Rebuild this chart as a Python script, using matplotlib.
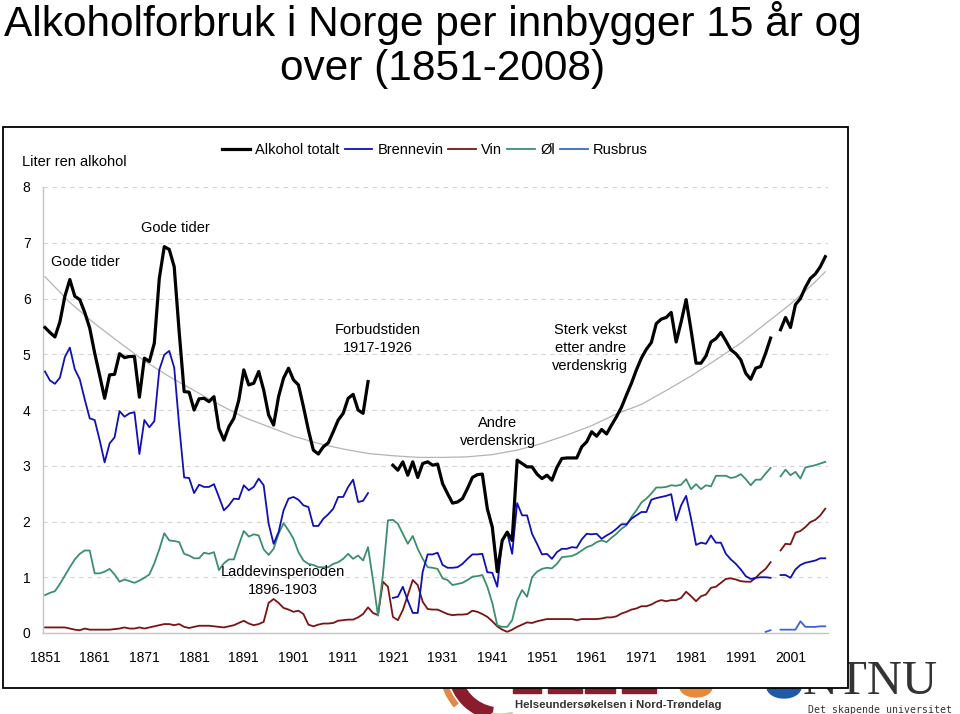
import numpy as np
import matplotlib

matplotlib.use("Agg")
import matplotlib.pyplot as plt
from matplotlib.patches import Rectangle, Wedge, Ellipse

nan = np.nan

YEARS = list(range(1851, 2009))

# Alkohol totalt (liter ren alkohol per innbygger 15+)
TOTAL = [
    5.48, 5.39, 5.31, 5.58, 6.04, 6.34, 6.04, 5.98, 5.75, 5.47,
    5.02, 4.62, 4.21, 4.63, 4.64, 5.01, 4.94, 4.96, 4.96, 4.23,
    4.93, 4.87, 5.20, 6.36, 6.93, 6.88, 6.57, 5.40, 4.33, 4.32,
    4.00, 4.20, 4.21, 4.15, 4.24, 3.67, 3.46, 3.70, 3.85, 4.18,
    4.72, 4.45, 4.48, 4.69, 4.36, 3.91, 3.73, 4.24, 4.57, 4.75,
    4.54, 4.45, 4.06, 3.64, 3.28, 3.21, 3.34, 3.41, 3.61, 3.82,
    3.94, 4.21, 4.28, 4.00, 3.94, 4.51, nan, nan, nan, nan,
    3.01, 2.92, 3.07, 2.83, 3.07, 2.79, 3.04, 3.07, 3.01, 3.03,
    2.68, 2.50, 2.33, 2.35, 2.41, 2.59, 2.79, 2.84, 2.85, 2.23,
    1.90, 1.10, 1.66, 1.81, 1.66, 3.10, 3.04, 2.98, 2.98, 2.85,
    2.77, 2.83, 2.74, 2.97, 3.13, 3.14, 3.14, 3.14, 3.34, 3.43,
    3.61, 3.53, 3.65, 3.57, 3.73, 3.88, 4.05, 4.27, 4.48, 4.72,
    4.93, 5.09, 5.21, 5.55, 5.63, 5.66, 5.75, 5.22, 5.58, 5.98,
    5.43, 4.84, 4.84, 4.97, 5.22, 5.28, 5.39, 5.24, 5.08, 5.01,
    4.90, 4.66, 4.55, 4.75, 4.78, 5.02, 5.29, nan, 5.44, 5.66,
    5.48, 5.89, 6.00, 6.20, 6.36, 6.44, 6.57, 6.75,
]

BRENNEVIN = [
    4.69, 4.53, 4.47, 4.58, 4.95, 5.12, 4.73, 4.55, 4.19, 3.85,
    3.82, 3.46, 3.06, 3.40, 3.51, 3.98, 3.88, 3.94, 3.96, 3.21,
    3.82, 3.69, 3.80, 4.72, 4.99, 5.06, 4.76, 3.72, 2.79, 2.78,
    2.51, 2.66, 2.62, 2.62, 2.67, 2.44, 2.20, 2.29, 2.41, 2.40,
    2.65, 2.56, 2.62, 2.77, 2.65, 1.96, 1.60, 1.81, 2.20, 2.41,
    2.44, 2.39, 2.29, 2.26, 1.92, 1.92, 2.05, 2.13, 2.23, 2.44,
    2.44, 2.62, 2.75, 2.35, 2.37, 2.51, nan, nan, nan, nan,
    0.63, 0.65, 0.83, 0.58, 0.36, 0.36, 1.10, 1.41, 1.41, 1.44,
    1.22, 1.17, 1.17, 1.18, 1.24, 1.33, 1.41, 1.41, 1.42, 1.09,
    1.08, 0.83, 1.66, 1.80, 1.42, 2.33, 2.11, 2.11, 1.78, 1.60,
    1.41, 1.42, 1.33, 1.45, 1.51, 1.51, 1.54, 1.53, 1.68, 1.78,
    1.77, 1.78, 1.69, 1.75, 1.80, 1.87, 1.95, 1.95, 2.05, 2.11,
    2.17, 2.17, 2.39, 2.42, 2.44, 2.46, 2.49, 2.02, 2.29, 2.46,
    2.05, 1.58, 1.62, 1.60, 1.75, 1.62, 1.62, 1.42, 1.32, 1.24,
    1.14, 1.02, 0.97, 0.99, 1.00, 1.00, 0.99, nan, 1.04, 1.04,
    0.99, 1.14, 1.22, 1.26, 1.28, 1.30, 1.34, 1.34,
]

VIN = [
    0.10, 0.10, 0.10, 0.10, 0.10, 0.08, 0.06, 0.05, 0.08, 0.06,
    0.06, 0.06, 0.06, 0.06, 0.07, 0.08, 0.10, 0.08, 0.08, 0.10,
    0.08, 0.10, 0.12, 0.14, 0.16, 0.16, 0.14, 0.16, 0.11, 0.09,
    0.11, 0.13, 0.13, 0.13, 0.12, 0.11, 0.10, 0.12, 0.14, 0.18,
    0.22, 0.17, 0.14, 0.16, 0.20, 0.54, 0.61, 0.54, 0.45, 0.42,
    0.38, 0.40, 0.34, 0.15, 0.12, 0.15, 0.17, 0.17, 0.18, 0.22,
    0.23, 0.24, 0.24, 0.28, 0.34, 0.46, 0.36, 0.32, 0.92, 0.83,
    0.29, 0.23, 0.41, 0.68, 0.95, 0.86, 0.56, 0.43, 0.42, 0.42,
    0.38, 0.34, 0.32, 0.33, 0.33, 0.34, 0.40, 0.38, 0.34, 0.29,
    0.21, 0.12, 0.06, 0.02, 0.06, 0.11, 0.15, 0.19, 0.18, 0.21,
    0.23, 0.25, 0.25, 0.25, 0.25, 0.25, 0.25, 0.23, 0.25, 0.25,
    0.25, 0.25, 0.26, 0.28, 0.28, 0.30, 0.35, 0.38, 0.42, 0.44,
    0.48, 0.48, 0.51, 0.56, 0.59, 0.57, 0.59, 0.59, 0.63, 0.74,
    0.66, 0.57, 0.66, 0.69, 0.81, 0.83, 0.90, 0.97, 0.98, 0.96,
    0.93, 0.92, 0.92, 0.99, 1.08, 1.15, 1.27, nan, 1.48, 1.60,
    1.59, 1.80, 1.83, 1.90, 1.99, 2.03, 2.11, 2.23,
]

OL = [
    0.68, 0.72, 0.75, 0.88, 1.03, 1.18, 1.32, 1.42, 1.48, 1.48,
    1.07, 1.07, 1.10, 1.15, 1.05, 0.92, 0.96, 0.93, 0.90, 0.94,
    0.99, 1.05, 1.25, 1.50, 1.79, 1.66, 1.65, 1.63, 1.42, 1.39,
    1.34, 1.34, 1.44, 1.42, 1.45, 1.13, 1.25, 1.32, 1.32, 1.58,
    1.83, 1.73, 1.77, 1.75, 1.50, 1.40, 1.51, 1.78, 1.97, 1.84,
    1.69, 1.45, 1.30, 1.24, 1.22, 1.18, 1.18, 1.18, 1.24, 1.27,
    1.33, 1.42, 1.33, 1.39, 1.30, 1.54, 0.95, 0.31, 1.05, 2.02,
    2.03, 1.96, 1.78, 1.60, 1.74, 1.51, 1.33, 1.18, 1.17, 1.15,
    0.98, 0.95, 0.86, 0.88, 0.90, 0.95, 1.01, 1.02, 1.04, 0.83,
    0.54, 0.14, 0.11, 0.11, 0.23, 0.59, 0.77, 0.65, 1.00, 1.10,
    1.15, 1.17, 1.16, 1.24, 1.36, 1.37, 1.38, 1.42, 1.48, 1.54,
    1.57, 1.63, 1.66, 1.63, 1.71, 1.78, 1.87, 1.93, 2.08, 2.20,
    2.34, 2.41, 2.50, 2.61, 2.61, 2.62, 2.65, 2.64, 2.66, 2.76,
    2.58, 2.67, 2.58, 2.65, 2.63, 2.82, 2.82, 2.82, 2.78, 2.80,
    2.85, 2.76, 2.65, 2.75, 2.75, 2.86, 2.96, nan, 2.81, 2.93,
    2.83, 2.89, 2.77, 2.97, 2.99, 3.01, 3.04, 3.07,
]

RUSBRUS_YEARS = list(range(1996, 2009))
RUSBRUS = [0.02, 0.05, nan, 0.06, 0.06, 0.06, 0.06, 0.21, 0.11, 0.11, 0.11, 0.12, 0.12]

# grey trend curve
TREND_YEARS = [1851, 1856, 1861, 1866, 1871, 1876, 1881, 1886, 1891, 1896,
               1901, 1906, 1911, 1916, 1921, 1926, 1931, 1936, 1941, 1946,
               1951, 1956, 1961, 1966, 1971, 1976, 1981, 1986, 1991, 1996,
               2001, 2006, 2008]
TREND = [6.39, 5.93, 5.55, 5.21, 4.88, 4.60, 4.35, 4.10, 3.87, 3.70,
         3.53, 3.40, 3.30, 3.22, 3.18, 3.15, 3.15, 3.16, 3.20, 3.28,
         3.40, 3.55, 3.72, 3.93, 4.10, 4.35, 4.61, 4.90, 5.20, 5.55,
         5.90, 6.30, 6.48]

TICK_YEARS = list(range(1851, 2002, 10))
Y_TICKS = list(range(0, 9))

SERIES_NAMES = ["Alkohol totalt", "Brennevin", "Vin", "Øl", "Rusbrus"]

W, H = 960, 714
FONT = "Liberation Sans"
MAROON = "#8b1c2c"


def fx(px):
    return px / W


def fy(py):
    return 1 - py / H


fig = plt.figure(figsize=(W / 100, H / 100), dpi=100)
plt.rcParams["font.family"] = [FONT, "DejaVu Sans"]

# background layer: logos + chart frame, in pixel coords
bg = fig.add_axes([0, 0, 1, 1])
bg.set_xlim(0, W)
bg.set_ylim(H, 0)
bg.axis("off")

# HUNT logo bits (mostly hidden behind the chart box)
bg.add_patch(Wedge((500, 668), 52, 100, 170, width=12, color=MAROON, zorder=1))
bg.add_patch(Wedge((500, 668), 60, 140, 165, width=5, color="#e0894a", zorder=1))
bg.add_patch(Wedge((500, 668), 52, 75, 100, width=6, color="#c9d3a8", zorder=1))
for x0, w in [(513, 28), (548, 34), (585, 30), (622, 34)]:
    bg.add_patch(Rectangle((x0, 678), w, 15, color=MAROON, zorder=1))
bg.add_patch(Ellipse((696, 687), 32, 20, color="#e8893a", zorder=1))
bg.add_patch(Ellipse((784, 687), 34, 22, color="#1f5aa8", zorder=1))
bg.text(515, 705, "Helseundersøkelsen i Nord-Trøndelag", fontsize=8.2,
        fontweight="bold", color="#333333", va="center", ha="left",
        zorder=1)
bg.text(870, 694, "NTNU", fontsize=35, family="Liberation Serif",
        color="#333333", va="baseline", ha="center", zorder=1)
bg.text(808, 710, "Det skapende universitet", fontsize=7.1,
        family="DejaVu Sans Mono", color="#333333", va="center",
        ha="left", zorder=1)

# white chart box drawn over the logos
bg.add_patch(Rectangle((2.5, 127), 845, 561, facecolor="white",
                       edgecolor="black", lw=1.3, zorder=3))

# title
fig.text(fx(433), fy(23), "Alkoholforbruk i Norge per innbygger 15 år og",
         fontsize=30.5, ha="center", va="center")
fig.text(fx(443), fy(69), "over (1851-2008)", fontsize=30.5,
         ha="center", va="center")

# plot area
ax = fig.add_axes([fx(43), fy(633), fx(828) - fx(43), fy(187) - fy(633)])
ax.set_facecolor("none")
ax.set_xlim(1850.6, 2008.55)
ax.set_ylim(0, 8)

for v in Y_TICKS[1:]:
    ax.axhline(v, color="#d4d4d4", lw=0.8, dashes=(4, 4), zorder=0)

ax.plot(TREND_YEARS, TREND, color="#b4b4b4", lw=0.9, zorder=1)
l_vin, = ax.plot(YEARS, VIN, color="#7a1414", lw=1.3, zorder=2)
l_ol, = ax.plot(YEARS, OL, color="#3b8f6e", lw=1.3, zorder=2)
l_br, = ax.plot(YEARS, BRENNEVIN, color="#1010b4", lw=1.3, zorder=3)
l_rb, = ax.plot(RUSBRUS_YEARS, RUSBRUS, color="#3d63d6", lw=1.3, zorder=3)
l_tot, = ax.plot(YEARS, TOTAL, color="black", lw=2.3, zorder=4)

ax.set_xticks(TICK_YEARS)
ax.set_xticklabels([str(y) for y in TICK_YEARS])
ax.set_yticks(Y_TICKS)
ax.tick_params(axis="both", length=0, labelsize=10)
ax.tick_params(axis="x", pad=13)
ax.tick_params(axis="y", pad=9)
for s in ["top", "right"]:
    ax.spines[s].set_visible(False)
for s in ["left", "bottom"]:
    ax.spines[s].set_color("#c4c4c4")
    ax.spines[s].set_linewidth(1.0)

# annotations
ax.text(1859.2, 6.66, "Gode tider", fontsize=10.5, ha="center", va="center")
ax.text(1877.2, 7.27, "Gode tider", fontsize=10.5, ha="center", va="center")
ax.text(1918.0, 5.27, "Forbudstiden\n1917-1926", fontsize=10.5,
        ha="center", va="center", linespacing=1.35)
ax.text(1898.9, 0.93, "Laddevinsperioden\n1896-1903", fontsize=10.5,
        ha="center", va="center", linespacing=1.35)
ax.text(1942.1, 3.61, "Andre\nverdenskrig", fontsize=10.5,
        ha="center", va="center", linespacing=1.35)
ax.text(1960.7, 5.11, "Sterk vekst\netter andre\nverdenskrig", fontsize=10.5,
        ha="center", va="center", linespacing=1.35)

fig.text(fx(22), fy(162), "Liter ren alkohol", fontsize=10.5,
         ha="left", va="center")

fig.legend([l_tot, l_br, l_vin, l_ol, l_rb], SERIES_NAMES, loc="center",
           bbox_to_anchor=(fx(435), fy(150)), ncol=5, frameon=False,
           fontsize=10.5, handlelength=1.9, handletextpad=0.35,
           columnspacing=0.35, borderpad=0)

fig.savefig("out.png", dpi=100)
